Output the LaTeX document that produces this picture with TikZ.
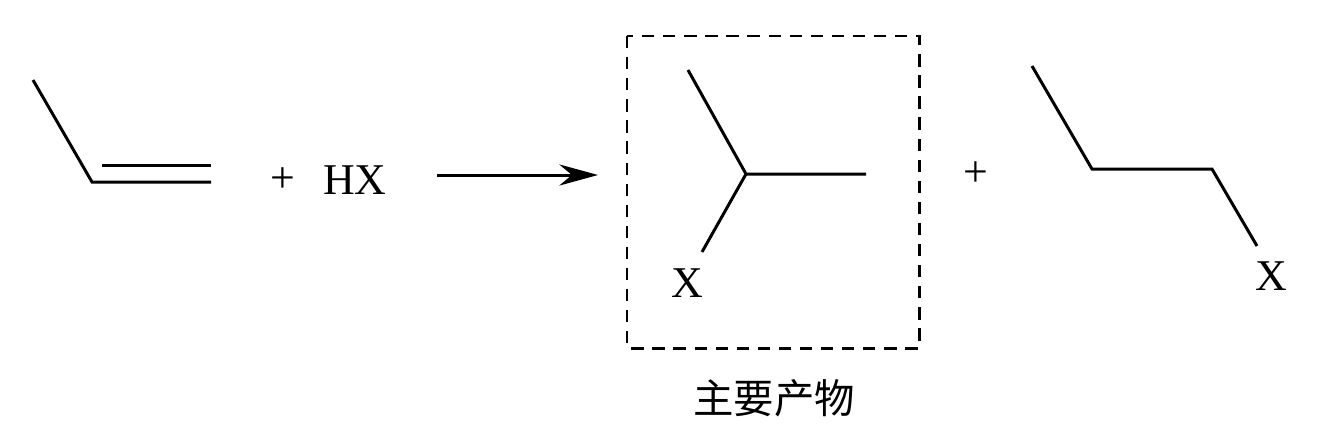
\documentclass[tikz,border=0pt]{standalone}
\usepackage{fontspec}
\setmainfont{Liberation Serif}
\newfontfamily\cjk{Noto Sans CJK SC}
\usetikzlibrary{arrows.meta}
\begin{document}
\begin{tikzpicture}[x=0.02cm,y=-0.02cm,
  bond/.style={line width=1.7pt},
  lbl/.style={font=\fontsize{25}{25}\selectfont, inner sep=0pt}]
\useasboundingbox (0,0) rectangle (1319,444);
% propene
\coordinate (a1) at (33,80); \coordinate (a2) at (92,182); \coordinate (a3) at (211,182);
\coordinate (b1) at (102,165); \coordinate (b2) at (211,165);
\draw[bond] (a1) -- (a2) -- (a3);
\draw[bond] (b1) -- (b2);
\node[lbl] (p1) at (283,180) {+};
\node[lbl] (hx) at (355,180) {HX};
\coordinate (r0) at (437,175); \coordinate (r1) at (598,175);
\draw[bond,-{Stealth[length=22pt,width=12pt]}] (r0) -- (r1);
% box
\coordinate (bx0) at (627,36); \coordinate (bx1) at (919,348);
\draw[line width=1.7pt,dash pattern=on 7pt off 5pt] (bx0) rectangle (bx1);
% product 1
\coordinate (c1) at (688,70); \coordinate (c2) at (746,174); \coordinate (c3) at (866,174); \coordinate (c4) at (702,252);
\draw[bond] (c1) -- (c2) -- (c3);
\draw[bond] (c2) -- (c4);
\node[lbl] (x1) at (687,283) {X};
\node[lbl] (p2) at (976,174) {+};
% product 2
\coordinate (d1) at (1032,66); \coordinate (d2) at (1092,169); \coordinate (d3) at (1212,169); \coordinate (d4) at (1257,246);
\draw[bond] (d1) -- (d2) -- (d3) -- (d4);
\node[lbl] (x2) at (1271,276) {X};
\node[font=\cjk\fontsize{23}{23}\selectfont, inner sep=0pt] (main) at (774,398) {主要产物};
\end{tikzpicture}
\end{document}
